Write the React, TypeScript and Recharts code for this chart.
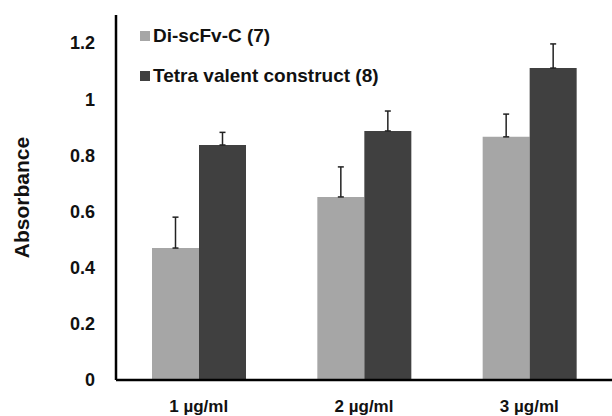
import { Bar, BarChart, ErrorBar, XAxis, YAxis } from "recharts";

const CATEGORIES = ["1 µg/ml", "2 µg/ml", "3 µg/ml"];
const DI_SCFV = [0.47, 0.652, 0.866];
const DI_SCFV_ERR = [0.11, 0.107, 0.081];
const TETRA = [0.837, 0.887, 1.111];
const TETRA_ERR = [0.045, 0.071, 0.086];
const Y_TICKS = [0, 0.2, 0.4, 0.6, 0.8, 1, 1.2];

const SERIES = [
  { key: "di", name: "Di-scFv-C (7)", color: "#a6a6a6" },
  { key: "tetra", name: "Tetra valent construct (8)", color: "#404040" },
];

const data = CATEGORIES.map((c, i) => ({
  c,
  di: DI_SCFV[i],
  diErr: [0, DI_SCFV_ERR[i]],
  tetra: TETRA[i],
  tetraErr: [0, TETRA_ERR[i]],
}));

const FONT = "'Liberation Sans', Arial, sans-serif";

function LegendBox() {
  return (
    <div style={{ position: "absolute", left: 140, top: 16, fontFamily: FONT, fontWeight: 700, fontSize: 19, color: "#111" }}>
      {SERIES.map((s) => (
        <div key={s.key} style={{ display: "flex", alignItems: "center", height: 40 }}>
          <span style={{ width: 10, height: 10, background: s.color, marginRight: 3, display: "inline-block" }} />
          <span>{s.name}</span>
        </div>
      ))}
    </div>
  );
}

export default function App() {
  return (
    <div style={{ width: 612, height: 416, background: "#fff", position: "fixed", left: 0, top: 0 }}>
      <BarChart
        width={612}
        height={416}
        data={data}
        margin={{ top: 15, right: 0, left: 0, bottom: 0 }}
        barCategoryGap={35}
        barGap={0}
      >
        <XAxis
          dataKey="c"
          height={36}
          axisLine={{ stroke: "#000", strokeWidth: 2.5 }}
          tickLine={false}
          tick={{ fill: "#111", fontSize: 17, fontWeight: 700, fontFamily: FONT }}
          tickMargin={14}
        />
        <YAxis
          width={116}
          domain={[0, 1.3]}
          ticks={Y_TICKS}
          axisLine={{ stroke: "#000", strokeWidth: 2.5 }}
          tickLine={false}
          tick={{ fill: "#111", fontSize: 18, fontWeight: 700, fontFamily: FONT }}
          tickMargin={15}
          label={{
            value: "Absorbance",
            angle: -90,
            position: "insideLeft",
            offset: 22,
            style: { fill: "#111", fontSize: 21, fontWeight: 700, fontFamily: FONT, textAnchor: "middle" },
          }}
        />
        {SERIES.map((s) => (
          <Bar key={s.key} dataKey={s.key} name={s.name} fill={s.color} barSize={47} isAnimationActive={false}>
            <ErrorBar dataKey={`${s.key}Err`} width={3} stroke="#222" strokeWidth={1.5} direction="y" />
          </Bar>
        ))}
      </BarChart>
      <LegendBox />
    </div>
  );
}
